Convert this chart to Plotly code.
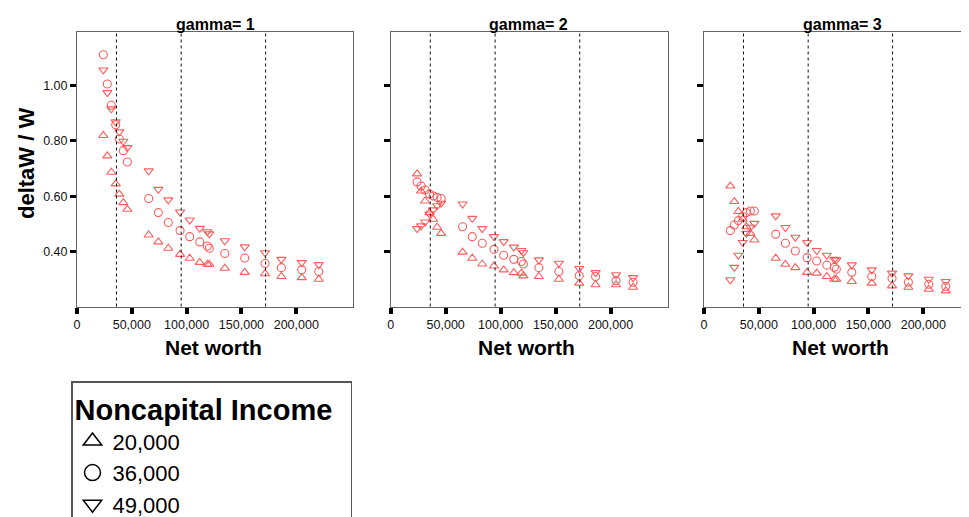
import plotly.graph_objects as go

# ---------------- data ----------------
net_worth = [24000, 27650, 31300, 35300, 38600, 42250, 45900,
             65400, 74200, 83300, 94000, 102800, 112000, 118900, 120700,
             134800, 153000, 171500, 186400, 205000, 220500]

# gamma = 1
g1_inc20 = [0.820, 0.746, 0.687, 0.645, 0.608, 0.577, 0.553,
            0.460, 0.435, 0.412, 0.390, 0.376, 0.361, 0.354, 0.354,
            0.340, 0.325, 0.320, 0.310, 0.306, 0.300]
g1_inc36 = [1.112, 1.006, 0.929, 0.859, 0.807, 0.765, 0.724,
            0.592, 0.541, 0.505, 0.476, 0.454, 0.435, 0.420, 0.412,
            0.393, 0.377, 0.357, 0.342, 0.334, 0.328]
g1_inc49 = [1.057, 0.975, 0.916, 0.869, 0.833, 0.799, 0.776,
            0.692, 0.625, 0.587, 0.543, 0.514, 0.484, 0.472, 0.464,
            0.439, 0.417, 0.396, 0.372, 0.360, 0.353]

# gamma = 2
g2_inc20 = [0.681, 0.619, 0.583, 0.541, 0.517, 0.488, 0.466,
            0.398, 0.376, 0.355, 0.348, 0.334, 0.324, 0.322, 0.312,
            0.310, 0.300, 0.286, 0.280, 0.280, 0.271]
g2_inc36 = [0.652, 0.637, 0.623, 0.608, 0.601, 0.596, 0.592,
            0.490, 0.454, 0.430, 0.408, 0.387, 0.372, 0.364, 0.355,
            0.342, 0.328, 0.313, 0.310, 0.295, 0.289]
g2_inc49 = [0.483, 0.493, 0.507, 0.536, 0.551, 0.566, 0.575,
            0.572, 0.520, 0.483, 0.454, 0.436, 0.416, 0.404, 0.396,
            0.370, 0.358, 0.339, 0.324, 0.316, 0.306]

# gamma = 3
g3_inc20 = [0.637, 0.581, 0.545, 0.517, 0.490, 0.466, 0.442,
            0.376, 0.354, 0.342, 0.325, 0.322, 0.310, 0.300, 0.300,
            0.292, 0.286, 0.276, 0.271, 0.264, 0.258]
g3_inc36 = [0.476, 0.496, 0.512, 0.527, 0.541, 0.547, 0.547,
            0.463, 0.430, 0.402, 0.378, 0.366, 0.351, 0.343, 0.336,
            0.325, 0.310, 0.304, 0.289, 0.282, 0.274]
g3_inc49 = [0.298, 0.343, 0.387, 0.433, 0.466, 0.488, 0.502,
            0.529, 0.487, 0.452, 0.433, 0.404, 0.387, 0.372, 0.370,
            0.352, 0.334, 0.322, 0.312, 0.300, 0.292]

cutoffs = [36000, 95000, 172000]
x_ticks = [0, 50000, 100000, 150000, 200000]
y_ticks = [0.40, 0.60, 0.80, 1.00]
income_labels = ["20,000", "36,000", "49,000"]
gamma_labels = ["gamma= 1", "gamma= 2", "gamma= 3"]

panels = [
    [g1_inc20, g1_inc36, g1_inc49],
    [g2_inc20, g2_inc36, g2_inc49],
    [g3_inc20, g3_inc36, g3_inc49],
]

# ---------------- styling ----------------
W, H = 969, 517
OFF = 8  # page body margin of the browser
FONT = "Liberation Sans, Arial, sans-serif"
RED = "rgba(255,75,75,0.9)"
symbols = ["triangle-up-open", "circle-open", "triangle-down-open"]
sizes = [8, 8, 8]

def px_x(p):
    return (p - OFF) / W

def px_y(p):
    return 1 - (p - OFF) / H

PANEL_W = 276.3
X_MAX = 252000
p3_right = W + OFF
x_domains = [[px_x(77), px_x(353.3)], [px_x(390.7), px_x(667.7)], [px_x(704), 1.0]]
x_ranges = [[0, X_MAX], [0, X_MAX], [0, X_MAX * (p3_right - 704) / PANEL_W]]
y_domain = [px_y(306.5), px_y(31.5)]
y_range = [0.2014, 1.196]

fig = go.Figure()

for i, series in enumerate(panels):
    xa = "x" if i == 0 else f"x{i+1}"
    ya = "y" if i == 0 else f"y{i+1}"
    for j, vals in enumerate(series):
        fig.add_trace(go.Scatter(
            x=net_worth, y=vals, mode="markers", xaxis=xa, yaxis=ya,
            marker=dict(symbol=symbols[j], size=sizes[j], color=RED,
                        line=dict(color=RED, width=1.1)),
            name=income_labels[j], showlegend=False, hoverinfo="x+y"))

# legend entries (black symbols)
for j, lab in enumerate(income_labels):
    fig.add_trace(go.Scatter(
        x=[None], y=[None], mode="markers", name=lab, legendgroup=lab,
        marker=dict(symbol=symbols[j], size=16, color="black",
                    line=dict(color="black", width=1.5)),
        showlegend=True))

layout = dict(
    width=W, height=H,
    margin=dict(l=0, r=0, t=0, b=0, autoexpand=False),
    paper_bgcolor="white", plot_bgcolor="white",
    font=dict(family=FONT, color="black"),
    showlegend=True,
    legend=dict(
        x=px_x(71), y=px_y(381), xanchor="left", yanchor="top",
        bordercolor="#555555", borderwidth=1.5, bgcolor="white",
        font=dict(family=FONT, size=22, color="black"),
        title=dict(text="Noncapital Income\u00a0\u00a0",
                   font=dict(family=FONT, size=29, color="black", weight="bold")),
        tracegroupgap=0,
    ),
)

for i in range(3):
    sx = "" if i == 0 else str(i + 1)
    layout[f"xaxis{sx}"] = dict(
        domain=x_domains[i], range=x_ranges[i], anchor=f"y{sx}",
        automargin=False,
        tickvals=x_ticks, tickformat=",d", ticks="outside", ticklen=6,
        tickwidth=4, tickcolor="black", showgrid=False, zeroline=False,
        showline=True, linecolor="#666666", linewidth=1, mirror=True,
        tickfont=dict(family=FONT, size=12.5, color="#111111"),
    )
    layout[f"yaxis{sx}"] = dict(
        domain=y_domain, range=y_range, anchor=f"x{sx}",
        automargin=False,
        tickvals=y_ticks, tickformat=".2f", ticks="outside", ticklen=6,
        tickwidth=3, tickcolor="black", showgrid=False, zeroline=False,
        showline=True, linecolor="#666666", linewidth=1,
        mirror=(i < 2), showticklabels=(i == 0),
        tickfont=dict(family=FONT, size=12.5, color="#111111"),
    )

fig.update_layout(**layout)

# dashed cutoff lines
for i in range(3):
    sx = "" if i == 0 else str(i + 1)
    for c in cutoffs:
        fig.add_shape(type="line", xref=f"x{sx}", yref=f"y{sx} domain",
                      x0=c, x1=c, y0=0, y1=1,
                      line=dict(color="#111111", width=1, dash="dot"))

# panel titles and axis titles
for i in range(3):
    cx = x_domains[i][0] + PANEL_W / W / 2
    fig.add_annotation(text=gamma_labels[i], xref="paper", yref="paper",
                       x=cx, y=px_y(35), xanchor="center", yanchor="bottom",
                       showarrow=False,
                       font=dict(family=FONT, size=16, color="black", weight="bold"))
    fig.add_annotation(text="Net worth", xref="paper", yref="paper",
                       x=cx - 2 / W, y=px_y(347), xanchor="center", yanchor="middle",
                       showarrow=False,
                       font=dict(family=FONT, size=21, color="black", weight="bold"))

fig.add_annotation(text="deltaW / W", xref="paper", yref="paper",
                   x=px_x(26), y=px_y(164), xanchor="center", yanchor="middle",
                   textangle=-90, showarrow=False,
                   font=dict(family=FONT, size=22, color="black", weight="bold"))

fig.write_html("out.html")
